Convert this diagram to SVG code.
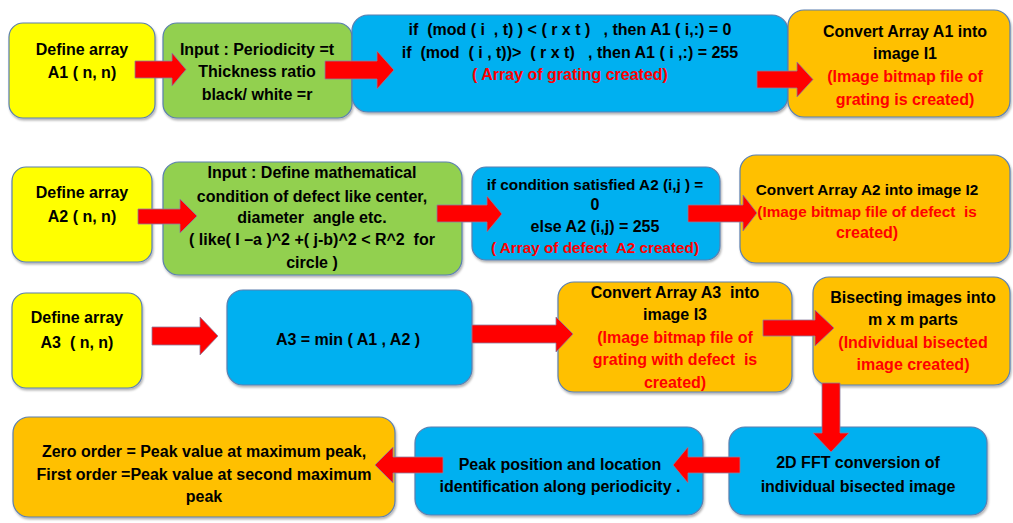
<svg xmlns="http://www.w3.org/2000/svg" width="1013" height="523" viewBox="0 0 1013 523">
<defs>
<filter id="sh" x="-5%" y="-5%" width="110%" height="115%">
<feDropShadow dx="1" dy="2" stdDeviation="1.2" flood-color="#000" flood-opacity="0.3"/>
</filter>
<style>
.box{stroke:#5a7fb0;stroke-width:1.2;filter:url(#sh)}
.y{fill:#ffff00}.g{fill:#92d050}.b{fill:#00b0f0}.o{fill:#ffc000}
text{font-family:"Liberation Sans",Arial,sans-serif;font-size:16px;font-weight:bold;fill:#000;text-anchor:middle;white-space:pre}
.r{fill:#ff0000}
.s{font-size:15.3px}
.arr{fill:#ff0000;stroke:#8a7fa0;stroke-width:0.8}
</style>
</defs>
<rect width="1013" height="523" fill="#ffffff"/>

<g id="n1"><rect class="box y" x="9" y="23" width="146" height="95" rx="14"/>
<text x="82" y="55">Define array</text><text x="82" y="78">A1 ( n, n)</text></g>

<g id="n2"><rect class="box g" x="163" y="23" width="189" height="95" rx="14"/>
<text x="257" y="55">Input : Periodicity =t</text><text x="257" y="77">Thickness ratio</text><text x="257" y="100">black/ white =r</text></g>

<g id="n3"><rect class="box b" x="352" y="15" width="436" height="97" rx="16"/>
<text x="570" y="35" xml:space="preserve">if  (mod ( i  , t) ) &lt; ( r x t )   , then A1 ( i,:) = 0</text>
<text x="570" y="58" xml:space="preserve">if  (mod  ( i , t))&gt;  ( r x t)   , then A1 ( i ,:) = 255</text>
<text class="r" x="570" y="80">( Array of grating created)</text></g>

<g id="n4"><rect class="box o" x="788" y="10" width="222" height="107" rx="16"/>
<text x="905" y="37">Convert Array A1 into</text><text x="905" y="59">image I1</text>
<text class="r" x="905" y="82">(Image bitmap file of</text><text class="r" x="905" y="105">grating is created)</text></g>

<g id="n5"><rect class="box y" x="12" y="167" width="140" height="95" rx="14"/>
<text x="82" y="198">Define array</text><text x="82" y="222">A2 ( n, n)</text></g>

<g id="n6"><rect class="box g" x="163" y="162" width="299" height="113" rx="16"/>
<text x="312" y="178">Input : Define mathematical</text>
<text x="312" y="202">condition of defect like center,</text>
<text x="312" y="223" xml:space="preserve">diameter  angle etc.</text>
<text x="312" y="245" xml:space="preserve">( like( I –a )^2 +( j-b)^2 &lt; R^2  for</text>
<text x="312" y="268">circle )</text></g>

<g id="n7"><rect class="box b" x="472" y="167" width="248" height="93" rx="14"/>
<text class="s" x="595" y="190">if condition satisfied A2 (i,j ) =</text>
<text x="595" y="210">0</text>
<text x="595" y="232">else A2 (i,j) = 255</text>
<text class="r s" x="595" y="253" xml:space="preserve">( Array of defect  A2 created)</text></g>

<g id="n8"><rect class="box o" x="740" y="155" width="270" height="108" rx="16"/>
<text class="s" x="867" y="195">Convert Array A2 into image I2</text>
<text class="r s" x="867" y="217" xml:space="preserve">(Image bitmap file of defect  is</text>
<text class="r" x="867" y="238">created)</text></g>

<g id="n9"><rect class="box y" x="12" y="293" width="130" height="95" rx="14"/>
<text x="77" y="323">Define array</text><text x="77" y="348" xml:space="preserve">A3  ( n, n)</text></g>

<g id="n10"><rect class="box b" x="227" y="290" width="245" height="95" rx="16"/>
<text x="348" y="345">A3 = min ( A1 , A2 )</text></g>

<g id="n11"><rect class="box o" x="558" y="282" width="234" height="110" rx="16"/>
<text x="675" y="298" xml:space="preserve">Convert Array A3  into</text><text x="675" y="320">image I3</text>
<text class="r" x="675" y="343">(Image bitmap file of</text>
<text class="r" x="675" y="365" xml:space="preserve">grating with defect  is</text>
<text class="r" x="675" y="388">created)</text></g>

<g id="n12"><rect class="box o" x="813" y="277" width="197" height="108" rx="16"/>
<text x="913" y="303">Bisecting images into</text><text x="913" y="325">m x m parts</text>
<text class="r" x="913" y="348">(Individual bisected</text><text class="r" x="913" y="370">image created)</text></g>

<g id="n13"><rect class="box o" x="13" y="417" width="382" height="100" rx="16"/>
<text x="204" y="457">Zero order = Peak value at maximum peak,</text>
<text x="204" y="480">First order =Peak value at second maximum</text>
<text x="204" y="502">peak</text></g>

<g id="n14"><rect class="box b" x="415" y="427" width="288" height="88" rx="16"/>
<text x="560" y="470">Peak position and location</text>
<text x="560" y="492">identification along periodicity .</text></g>

<g id="n15"><rect class="box b" x="729" y="427" width="258" height="88" rx="16"/>
<text x="858" y="468">2D FFT conversion of</text>
<text x="858" y="492">individual bisected image</text></g>

<g id="connectors">
<polygon class="arr" points="135,61 172,61 172,53 186,69.5 172,86 172,78 135,78"/>
<polygon class="arr" points="325,61 377,61 377,51 394,70 377,89 377,79 325,79"/>
<polygon class="arr" points="757,71 797,71 797,62 813,79.5 797,97 797,88 757,88"/>
<polygon class="arr" points="138,209 180,209 180,199 197,216 180,233 180,224 138,224"/>
<polygon class="arr" points="437,205 487,205 487,196 502,214 487,232 487,222 437,222"/>
<polygon class="arr" points="688,205 743,205 743,195 757,213 743,231 743,222 688,222"/>
<polygon class="arr" points="152,327 200,327 200,317 218,336 200,355 200,345 152,345"/>
<polygon class="arr" points="472,325 556,325 556,317 573,334 556,352 556,343 472,343"/>
<polygon class="arr" points="763,320 815,320 815,310 834,328 815,346 815,336 763,336"/>
<polygon class="arr" points="822,383 840,383 840,433 849,433 831,452 813,433 822,433"/>
<polygon class="arr" points="740,457 688,457 688,447 673,465 688,483 688,473 740,473"/>
<polygon class="arr" points="443,457 393,457 393,447 375,465 393,483 393,473 443,473"/>
</g>
</svg>
